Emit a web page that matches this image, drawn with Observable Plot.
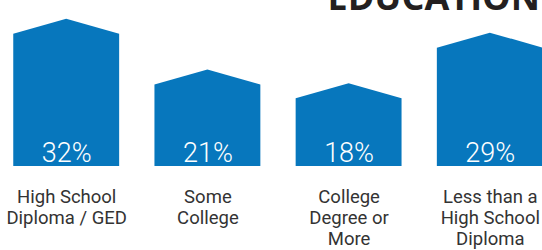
<!DOCTYPE html>
<html><head><meta charset="utf-8">
<script src="https://cdn.jsdelivr.net/npm/d3@7"></script>
<script src="https://cdn.jsdelivr.net/npm/@observablehq/plot@0.6"></script>
<style>
html,body{margin:0;padding:0;background:#fff;overflow:hidden}
#wrap{position:relative;width:542px;height:250px;overflow:hidden}
#chart{position:absolute;left:0;top:0}
#title{position:absolute;right:2px;top:-21px;margin:0;font:700 36px "Open Sans";line-height:36px;color:#231f20;white-space:nowrap;z-index:2}
</style></head><body>
<div id="wrap"><div id="chart"></div><div id="title">EDUCATION</div></div>
<script>
const categories = ["High School Diploma / GED", "Some College", "College Degree or More", "Less than a High School Diploma"];
const tickLabels = ["High School\nDiploma / GED", "Some\nCollege", "College\nDegree or\nMore", "Less than a\nHigh School\nDiploma"];
const values = [32, 21, 18, 29];

const data = categories.map((c, i) => ({category: c, index: i, label: tickLabels[i], value: values[i]}));
const BLUE = "#0777bd";
const HALF = 0.375;   // half bar width in category steps
const ROOF = 3.26;    // roof height in value units

// outline points of each house shape (body + pointed roof), derived from the values
const outline = data.flatMap(d => [
  {category: d.category, x: d.index - HALF, top: d.value - ROOF},
  {category: d.category, x: d.index, top: d.value},
  {category: d.category, x: d.index + HALF, top: d.value - ROOF}
]);

const chart = Plot.plot({
  width: 542,
  height: 250,
  marginTop: 0,
  marginBottom: 84,
  marginLeft: 0,
  marginRight: 0,
  style: {fontFamily: "Roboto", background: "transparent"},
  x: {type: "linear", domain: [-0.5, 3.5], range: [-4.4, 560.4], axis: null},
  y: {domain: [0, 36.1], axis: null},
  marks: [
    Plot.areaY(outline, {x: "x", y1: 0, y2: "top", z: "category", fill: BLUE, curve: "linear"}),
    Plot.text(data, {x: "index", y: 0, text: d => d.value + "%", dy: -5, lineAnchor: "bottom",
      fill: "white", fontSize: 27, fontWeight: 300, fontFamily: "Roboto"}),
    Plot.text(data, {x: "index", y: 0, text: "label", lineAnchor: "top", dy: 21.3, lineHeight: 1.15,
      fill: "#333", fontSize: 18.5, fontFamily: "Roboto"})
  ]
});
document.getElementById("chart").appendChild(chart);
</script>
</body></html>
